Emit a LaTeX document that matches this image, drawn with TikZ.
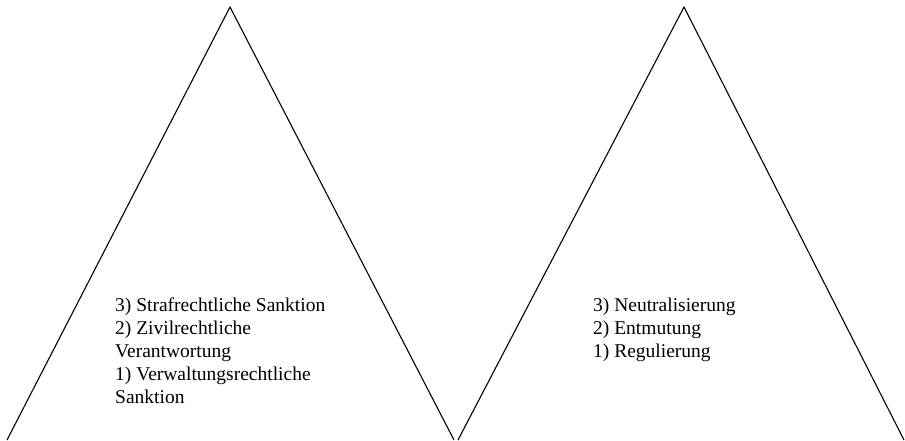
\documentclass[tikz,border=0pt]{standalone}
\usepackage{fontspec}
\setmainfont{Liberation Serif}
\begin{document}
\begin{tikzpicture}[x=1pt, y=-1pt,
    seite/.style={line width=1.1pt, line join=miter},
    stufen/.style={font=\fontsize{19.5}{23}\selectfont, inner sep=0pt, anchor=north west, align=left}]
			\useasboundingbox (0,0) rectangle (905,440);
			%   %   %   %   %   %   %   %   %   %   %
			%   Left pyramid
				\coordinate (lfuss) at (7,440);
				\coordinate (lspitze) at (230,7);
				\coordinate (rfuss) at (454,440);
				\draw[seite] (lfuss) -- (lspitze) -- (rfuss);
				\node[stufen] (sanktionen) at (115,298)
				{3) Strafrechtliche Sanktion\\2) Zivilrechtliche\\Verantwortung\\1) Verwaltungsrechtliche\\Sanktion};
			%   %   %   %   %   %   %   %   %   %   %
			%   Right pyramid
				\coordinate (lfuss2) at (458,440);
				\coordinate (rspitze) at (684,7);
				\coordinate (rfuss2) at (904,440);
				\draw[seite] (lfuss2) -- (rspitze) -- (rfuss2);
				\node[stufen] (massnahmen) at (593,298)
				{3) Neutralisierung\\2) Entmutung\\1) Regulierung};
\end{tikzpicture}
\end{document}
